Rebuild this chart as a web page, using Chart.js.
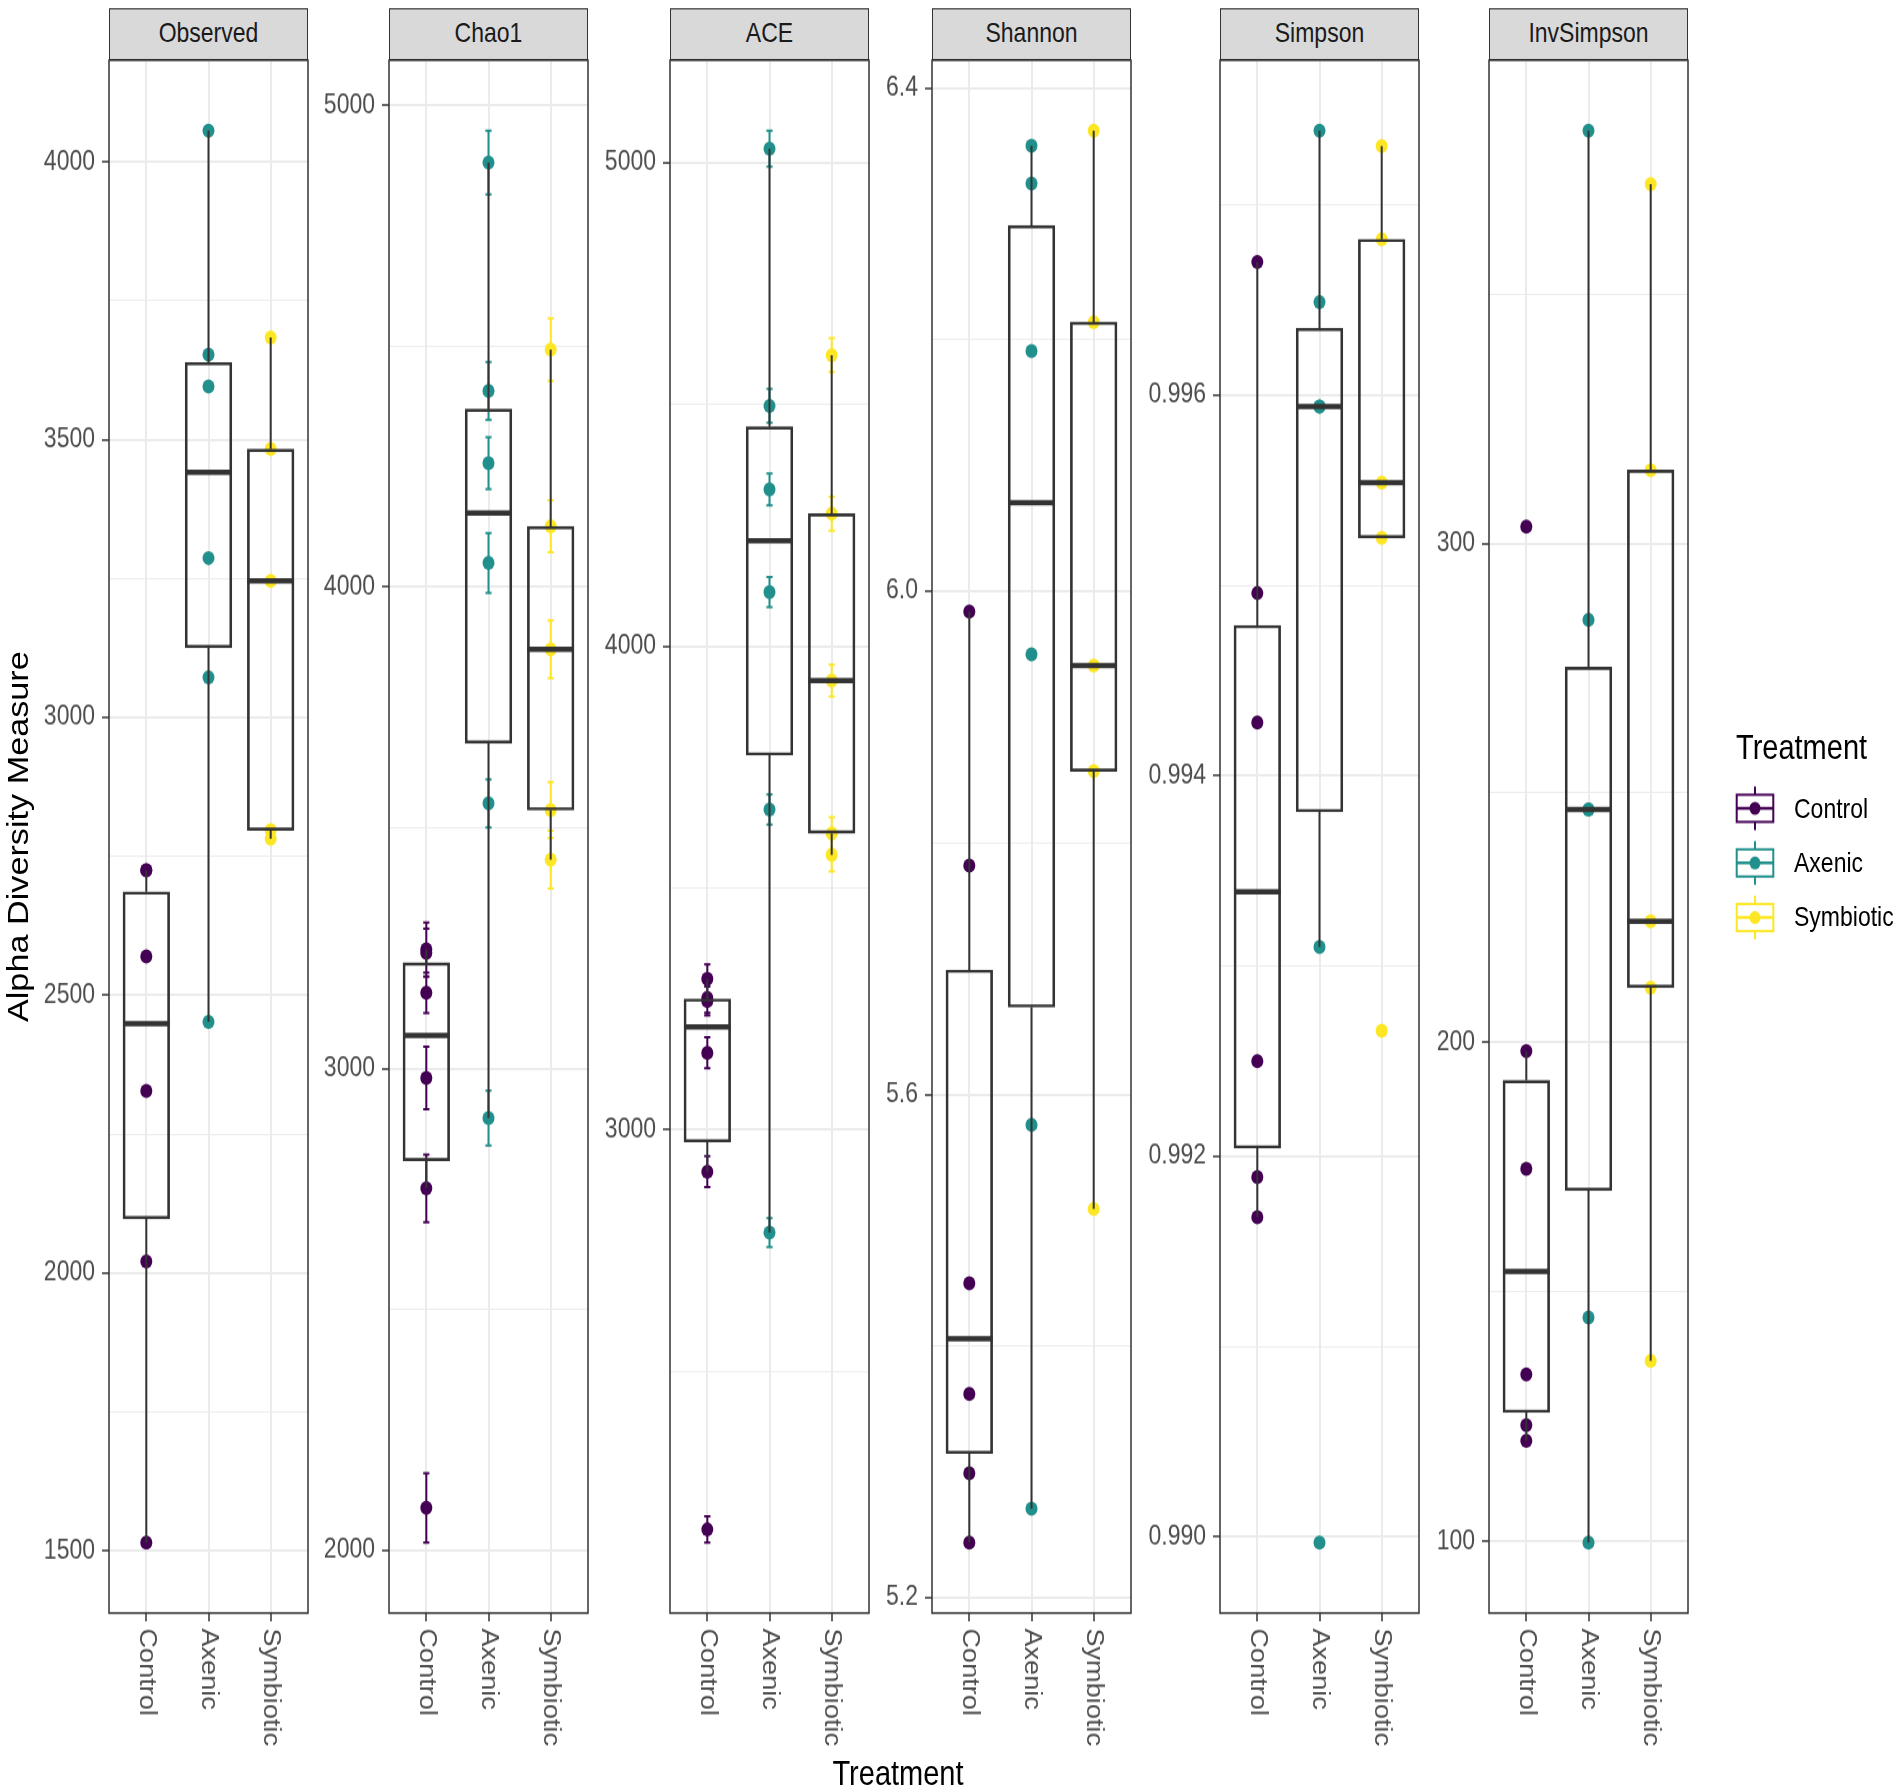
<!DOCTYPE html>
<html>
<head>
<meta charset="utf-8">
<title>Alpha diversity by treatment</title>
<script src="https://cdn.jsdelivr.net/npm/chart.js@4.4.1/dist/chart.umd.min.js"></script>
<style>
  html, body { margin: 0; padding: 0; background: #fff; overflow: hidden; }
  body { width: 1901px; height: 1791px; position: relative; }
  /* the reference figure is stretched vertically, so the whole figure is drawn flat and scaled */
  #fig { position: absolute; left: 0; top: 0; width: 1901px; height: 1518px;
         transform: scaleY(1.18); transform-origin: 0 0;
         font-family: "Liberation Sans", Arial, sans-serif; }
  .strip { position: absolute; box-sizing: border-box; background: #d9d9d9; border: 1.5px solid #333;
           color: #1a1a1a; font-size: 23px; line-height: 41px; text-align: center; }
  .panel { position: absolute; }
  #ytitle { position: absolute; left: 18px; top: 709px; transform: translate(-50%, -50%) rotate(-90deg);
            white-space: nowrap; font-size: 29px; line-height: 29px; color: #000; }
  #xtitle { position: absolute; left: 898px; top: 1489px; transform: translateX(-50%);
            white-space: nowrap; font-size: 29px; line-height: 29px; color: #000; }
  #legendTitle { position: absolute; left: 1736px; top: 619px; font-size: 29px; line-height: 29px; color: #000; }
  .legendLabel { position: absolute; left: 1794px; font-size: 23px; line-height: 23px; color: #000; white-space: nowrap; }
  #legendKeys { position: absolute; left: 1728px; top: 655px; }
</style>
</head>
<body>
<div id="fig">
  <div id="ytitle">Alpha Diversity Measure</div>
  <div id="xtitle">Treatment</div>
  <div id="legendTitle">Treatment</div>
  <canvas id="legendKeys" width="56" height="150"></canvas>
</div>
<script>
// Gruppen und Farben
const groups = ['Control', 'Axenic', 'Symbiotic'];
const groupColors = ['#440154', '#21908C', '#FDE725'];

// Messwerte je Gruppe (Control, Axenic, Symbiotic)
const observedValues = [
  [2725, 2725, 2570, 2328, 2021, 1515],
  [4056, 3653, 3596, 3287, 3072, 2452],
  [3684, 3483, 3246, 2797, 2782]
];
const chao1Values = [
  [3248, 3241, 3158, 2981, 2752, 2089],
  [4881, 4407, 4257, 4050, 3551, 2898],
  [4493, 4126, 3871, 3537, 3434]
];
const chao1Se = [
  [56, 50, 42, 65, 70, 72],
  [66, 60, 54, 62, 50, 57],
  [65, 54, 60, 58, 60]
];
const aceValues = [
  [3312, 3272, 3266, 3159, 2913, 2173],
  [5029, 4497, 4324, 4112, 3662, 2787],
  [4602, 4274, 3929, 3613, 3568]
];
const aceSe = [
  [30, 30, 30, 32, 32, 27],
  [37, 35, 33, 31, 31, 30],
  [35, 35, 33, 33, 34]
];
const shannonValues = [
  [5.984, 5.782, 5.450, 5.362, 5.299, 5.244],
  [6.354, 6.324, 6.191, 5.950, 5.576, 5.271],
  [6.366, 6.214, 5.941, 5.857, 5.509]
];
const simpsonValues = [
  [0.99670, 0.99496, 0.99428, 0.99250, 0.99189, 0.99168],
  [0.99739, 0.99649, 0.99594, 0.99594, 0.99310, 0.98997],
  [0.99731, 0.99682, 0.99554, 0.99525, 0.99266]
];
const invSimpsonValues = [
  [303.4, 198.3, 174.7, 133.5, 123.3, 120.2],
  [382.7, 284.7, 246.7, 246.7, 144.9, 99.8],
  [372.0, 314.7, 224.3, 211.0, 136.2]
];

// Achsenbeschriftungen
const observedTicks = ['1500', '2000', '2500', '3000', '3500', '4000'];
const chao1Ticks = ['2000', '3000', '4000', '5000'];
const aceTicks = ['3000', '4000', '5000'];
const shannonTicks = ['5.2', '5.6', '6.0', '6.4'];
const simpsonTicks = ['0.990', '0.992', '0.994', '0.996'];
const invSimpsonTicks = ['100', '200', '300'];

const facets = [
  { name: 'Observed', values: observedValues, se: null, ticks: observedTicks },
  { name: 'Chao1', values: chao1Values, se: chao1Se, ticks: chao1Ticks },
  { name: 'ACE', values: aceValues, se: aceSe, ticks: aceTicks },
  { name: 'Shannon', values: shannonValues, se: null, ticks: shannonTicks },
  { name: 'Simpson', values: simpsonValues, se: null, ticks: simpsonTicks },
  { name: 'InvSimpson', values: invSimpsonValues, se: null, ticks: invSimpsonTicks }
];

// Layout (Pixel, vor der Streckung)
const panelLefts = [109, 389, 670, 932, 1220, 1489];
const panelWidth = 199;
const panelTop = 51;
const panelHeight = 1316;
const stripHeight = 44;
const yAxisWidth = 100;
const xAxisHeight = 120;
const padTop = 26;
const padRight = 10;
const fontFamily = '"Liberation Sans", Arial, sans-serif';

const fig = document.getElementById('fig');

function quantile(sorted, p) {
  const h = (sorted.length - 1) * p;
  const lo = Math.floor(h);
  const next = lo + 1 < sorted.length ? sorted[lo + 1] : sorted[lo];
  return sorted[lo] + (h - lo) * (next - sorted[lo]);
}

function boxStats(values) {
  const s = values.slice().sort((a, b) => a - b);
  const q1 = quantile(s, 0.25), med = quantile(s, 0.5), q3 = quantile(s, 0.75);
  const iqr = q3 - q1;
  const lo = Math.min(...s.filter(v => v >= q1 - 1.5 * iqr));
  const hi = Math.max(...s.filter(v => v <= q3 + 1.5 * iqr));
  return { q1, med, q3, lo, hi };
}

// Achsenbeschriftung unten (gedreht) und Rahmen
const panelPlugin = {
  id: 'panelDecor',
  afterDraw(chart) {
    const { ctx, chartArea, scales } = chart;
    ctx.save();
    ctx.font = '23px ' + fontFamily;
    ctx.fillStyle = '#4d4d4d';
    ctx.textAlign = 'left';
    ctx.textBaseline = 'middle';
    groups.forEach((g, i) => {
      ctx.save();
      ctx.translate(scales.x.getPixelForValue(i + 1), chartArea.bottom + 13);
      ctx.rotate(Math.PI / 2);
      ctx.fillText(g, 0, 0);
      ctx.restore();
    });
    ctx.strokeStyle = '#333';
    ctx.lineWidth = 1.5;
    ctx.strokeRect(chartArea.left, chartArea.top, chartArea.right - chartArea.left, chartArea.bottom - chartArea.top);
    ctx.restore();
  }
};

function makeFacet(f, i) {
  const left = panelLefts[i];

  const strip = document.createElement('div');
  strip.className = 'strip';
  strip.style.left = left + 'px';
  strip.style.top = (panelTop - stripHeight) + 'px';
  strip.style.width = panelWidth + 'px';
  strip.style.height = stripHeight + 'px';
  strip.textContent = f.name;
  fig.appendChild(strip);

  const wrap = document.createElement('div');
  wrap.className = 'panel';
  wrap.style.left = (left - yAxisWidth) + 'px';
  wrap.style.top = (panelTop - padTop) + 'px';
  wrap.style.width = (panelWidth + yAxisWidth + padRight) + 'px';
  wrap.style.height = (panelHeight + padTop + xAxisHeight) + 'px';
  const canvas = document.createElement('canvas');
  wrap.appendChild(canvas);
  fig.appendChild(wrap);

  // Wertebereich wie ggplot: Datenbereich + 5 %
  let lo = Infinity, hi = -Infinity;
  f.values.forEach((vals, g) => vals.forEach((v, k) => {
    const e = f.se ? f.se[g][k] : 0;
    lo = Math.min(lo, v - e);
    hi = Math.max(hi, v + e);
  }));
  const pad = (hi - lo) * 0.05;
  const yMin = lo - pad, yMax = hi + pad;

  // Haupt- und Nebenlinien
  const major = f.ticks.map(Number);
  const step = major[1] - major[0];
  const yTicks = [];
  for (let v = major[0] - step / 2; v <= major[major.length - 1] + step / 2 + 1e-9; v += step / 2) {
    const val = +v.toFixed(6);
    if (val < yMin || val > yMax) continue;
    const idx = major.findIndex(m => Math.abs(m - val) < step * 1e-3);
    yTicks.push({ value: val, minor: idx < 0, text: idx < 0 ? '' : f.ticks[idx] });
  }

  const stats = f.values.map(boxStats);
  const half = 0.375;
  const capHalf = 0.05;
  const datasets = [];

  if (f.se) {
    f.values.forEach((vals, g) => {
      const x = g + 1;
      const pts = [];
      vals.forEach((v, k) => {
        const e = f.se[g][k];
        pts.push({ x, y: v - e }, { x, y: v + e }, { x, y: null },
                 { x: x - capHalf, y: v - e }, { x: x + capHalf, y: v - e }, { x, y: null },
                 { x: x - capHalf, y: v + e }, { x: x + capHalf, y: v + e }, { x, y: null });
      });
      datasets.push({ type: 'line', data: pts, borderColor: groupColors[g], borderWidth: 2,
                      pointRadius: 0, spanGaps: false, order: 4 });
    });
  }

  f.values.forEach((vals, g) => {
    datasets.push({ type: 'scatter', data: vals.map(v => ({ x: g + 1, y: v })),
                    backgroundColor: groupColors[g], borderWidth: 0, pointRadius: 6, order: 3 });
  });

  datasets.push({ type: 'bar', data: stats.map((s, g) => ({ x: g + 1, y: [s.q1, s.q3] })),
                  backgroundColor: 'rgba(0,0,0,0)', borderColor: '#333', borderWidth: 2,
                  borderSkipped: false, barThickness: 0.75 * panelWidth / 3.2, order: 1 });

  const whiskers = [];
  stats.forEach((s, g) => {
    const x = g + 1;
    whiskers.push({ x, y: s.lo }, { x, y: s.q1 }, { x, y: null }, { x, y: s.q3 }, { x, y: s.hi }, { x, y: null });
  });
  datasets.push({ type: 'line', data: whiskers, borderColor: '#333', borderWidth: 2,
                  pointRadius: 0, spanGaps: false, order: 1 });

  const medians = [];
  stats.forEach((s, g) => {
    const x = g + 1;
    medians.push({ x: x - half, y: s.med }, { x: x + half, y: s.med }, { x, y: null });
  });
  datasets.push({ type: 'line', data: medians, borderColor: '#333', borderWidth: 4.5,
                  pointRadius: 0, spanGaps: false, order: 0 });

  new Chart(canvas, {
    type: 'bar',
    data: { datasets },
    options: {
      responsive: true,
      maintainAspectRatio: false,
      animation: false,
      events: [],
      layout: { padding: { top: padTop, right: padRight, bottom: 0, left: 0 } },
      plugins: { legend: { display: false }, tooltip: { enabled: false } },
      scales: {
        x: {
          type: 'linear', min: 0.4, max: 3.6, offset: false,
          afterBuildTicks: s => { s.ticks = [1, 2, 3].map(v => ({ value: v })); },
          afterFit: s => { s.height = xAxisHeight; },
          ticks: { display: false },
          grid: { color: '#ebebeb', lineWidth: 2, offset: false, drawTicks: true,
                  tickLength: 7, tickColor: '#333', tickWidth: 1.5 },
          border: { display: false }
        },
        y: {
          type: 'linear', min: yMin, max: yMax,
          afterBuildTicks: s => { s.ticks = yTicks.map(t => Object.assign({}, t)); },
          afterFit: s => { s.width = yAxisWidth; },
          ticks: {
            autoSkip: false, padding: 7, color: '#4d4d4d',
            font: { family: fontFamily, size: 23 },
            callback: (value, index, ticks) => ticks[index].text || ''
          },
          grid: {
            color: '#ebebeb',
            lineWidth: ctx => (ctx.tick && ctx.tick.minor ? 1 : 2),
            tickLength: 7,
            tickColor: ctx => (ctx.tick && ctx.tick.minor ? 'rgba(0,0,0,0)' : '#333'),
            tickWidth: 1.5
          },
          border: { display: false }
        }
      }
    },
    plugins: [panelPlugin]
  });
}

facets.forEach(makeFacet);

// Legende
const keyCenters = [685, 731.3, 777.6];
const keyCanvas = document.getElementById('legendKeys');
const kctx = keyCanvas.getContext('2d');
const keyTop = 655, keyX = 27, keyHalfW = 18.3;
groups.forEach((g, i) => {
  const cy = keyCenters[i] - keyTop;
  kctx.strokeStyle = groupColors[i];
  kctx.lineWidth = 2;
  kctx.beginPath();
  kctx.moveTo(keyX, cy - 18.5); kctx.lineTo(keyX, cy - 11.5);
  kctx.moveTo(keyX, cy + 11.5); kctx.lineTo(keyX, cy + 18.5);
  kctx.stroke();
  kctx.strokeRect(keyX - keyHalfW, cy - 11.5, keyHalfW * 2, 23);
  kctx.lineWidth = 2.5;
  kctx.beginPath();
  kctx.moveTo(keyX - keyHalfW, cy); kctx.lineTo(keyX + keyHalfW, cy);
  kctx.stroke();
  kctx.fillStyle = groupColors[i];
  kctx.beginPath();
  kctx.arc(keyX, cy, 5.5, 0, Math.PI * 2);
  kctx.fill();

  const label = document.createElement('div');
  label.className = 'legendLabel';
  label.style.top = (keyCenters[i] - 11.3) + 'px';
  label.textContent = g;
  fig.appendChild(label);
});
</script>
</body>
</html>
